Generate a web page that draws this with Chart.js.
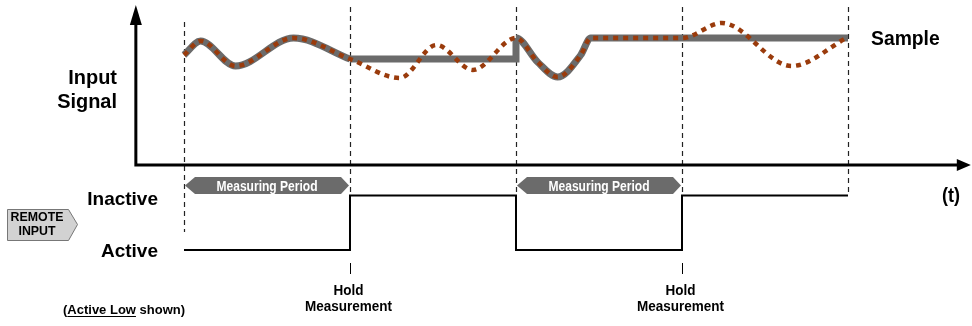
<!DOCTYPE html>
<html lang="en">
<head>
  <meta charset="UTF-8">
  <title>Remote Input Hold</title>
  <script src="https://cdn.jsdelivr.net/npm/chart.js"></script>
  <style>
    body { margin: 0; background: #fff; }
    #wrap { width: 972px; height: 326px; }
  </style>
</head>
<body>
  <div id="wrap"><canvas id="holdChart" width="972" height="326"></canvas></div>

 <script>
    // time in measuring periods, signal in arbitrary units
    const sigT = [0, 0.10, 0.31, 0.66, 1.0, 1.30, 1.52, 1.74, 2.0, 2.13, 2.25, 2.39, 2.45, 3.0, 3.24, 3.66, 4.0];
    const sigV = [11.0, 12.4, 9.9, 12.7, 10.6, 8.7, 12.0, 9.5, 12.7, 10.3, 8.8, 11.0, 12.7, 12.7, 14.2, 9.9, 12.8];

    // held value while the remote input is inactive
    const hold1T = [1, 2, 2];
    const hold1V = [10.6, 10.6, 12.7];
    const hold2T = [3, 4];
    const hold2V = [12.7, 12.7];

    // remote input level: 0 = Active, 1 = Inactive
    const remoteT = [0, 1, 1, 2, 2, 3, 3, 4];
    const remoteLvl = [0, 0, 1, 1, 0, 0, 1, 1];

    const markerT = [0, 1, 2, 3, 4];
    const holdAt = [1, 3];
    const periods = [[0, 1], [2, 3]];
    const holdRanges = [[1, 2], [3, 4]];

    const GRAY = '#6b6b6b';
    const BROWN = '#9a3b0c';
    const FONT = '"Liberation Sans", Arial, sans-serif';

    const pts = (xs, ys) => xs.map((x, i) => ({ x: x, y: ys[i] }));

    function inHold(a, b) {
      return holdRanges.some(r => a >= r[0] && b <= r[1]);
    }

    function txt(ctx, s, x, y, size, align, sx, color) {
      ctx.save();
      ctx.font = 'bold ' + size + 'px ' + FONT;
      ctx.fillStyle = color || '#000';
      ctx.textAlign = align;
      ctx.textBaseline = 'alphabetic';
      ctx.translate(x, y);
      ctx.scale(sx, 1);
      ctx.fillText(s, 0, 0);
      ctx.restore();
    }

    const drawParts = {
      id: 'drawParts',
      beforeDraw(chart) {
        const ctx = chart.ctx;
        ctx.save();
        ctx.fillStyle = '#fff';
        ctx.fillRect(0, 0, chart.width, chart.height);
        ctx.restore();
      },
      beforeDatasetsDraw(chart) {
        const ctx = chart.ctx;
        const xs = chart.scales.x, ys = chart.scales.y, y2 = chart.scales.y2;
        const hi = y2.getPixelForValue(1);

        // dashed period markers
        ctx.save();
        ctx.strokeStyle = '#222';
        ctx.lineWidth = 1.2;
        ctx.setLineDash([5, 4]);
        markerT.forEach((t, i) => {
          const px = Math.round(xs.getPixelForValue(t)) + 0.5;
          ctx.beginPath();
          ctx.moveTo(px, i === 0 ? 22 : 7);
          ctx.lineTo(px, i === 0 ? 232 : hi);
          ctx.stroke();
        });
        ctx.restore();

        // axes with arrows
        const ax = xs.getPixelForValue(-0.29);
        const ay = ys.getPixelForValue(0);
        const tipX = xs.getPixelForValue(4.74);
        const tipY = ys.getPixelForValue(16);
        ctx.save();
        ctx.strokeStyle = '#000';
        ctx.fillStyle = '#000';
        ctx.lineWidth = 3;
        ctx.beginPath();
        ctx.moveTo(ax, ay);
        ctx.lineTo(ax, tipY + 16);
        ctx.moveTo(ax - 1.5, ay);
        ctx.lineTo(tipX - 12, ay);
        ctx.stroke();
        ctx.beginPath();
        ctx.moveTo(ax, tipY);
        ctx.lineTo(ax - 6, tipY + 20);
        ctx.lineTo(ax + 6, tipY + 20);
        ctx.closePath();
        ctx.fill();
        ctx.beginPath();
        ctx.moveTo(tipX, ay);
        ctx.lineTo(tipX - 14, ay - 6);
        ctx.lineTo(tipX - 14, ay + 6);
        ctx.closePath();
        ctx.fill();
        ctx.restore();
      },
      afterDatasetsDraw(chart) {
        const ctx = chart.ctx;
        const xs = chart.scales.x, y2 = chart.scales.y2;
        const hi = y2.getPixelForValue(1);
        const lo = y2.getPixelForValue(0);

        // measuring period banners
        periods.forEach(p => {
          const a = xs.getPixelForValue(p[0]) + 1;
          const b = xs.getPixelForValue(p[1]) - 1;
          const cy = hi - 10, h = 8.5;
          ctx.save();
          ctx.fillStyle = '#6b6b6b';
          ctx.beginPath();
          ctx.moveTo(a, cy);
          ctx.lineTo(a + 10, cy - h);
          ctx.lineTo(b - 8, cy - h);
          ctx.lineTo(b, cy);
          ctx.lineTo(b - 8, cy + h);
          ctx.lineTo(a + 10, cy + h);
          ctx.closePath();
          ctx.fill();
          ctx.restore();
          txt(ctx, 'Measuring Period', (a + b) / 2, cy + 5, 14, 'center', 0.86, '#fff');
        });

        // hold measurement marks
        holdAt.forEach(t => {
          const px = Math.round(xs.getPixelForValue(t)) + 0.5;
          ctx.save();
          ctx.strokeStyle = '#000';
          ctx.lineWidth = 1;
          ctx.beginPath();
          ctx.moveTo(px, 263);
          ctx.lineTo(px, 274);
          ctx.stroke();
          ctx.restore();
          txt(ctx, 'Hold', px - 2, 295, 15, 'center', 0.9);
          txt(ctx, 'Measurement', px - 2, 311, 15, 'center', 0.9);
        });

        // labels
        txt(ctx, 'Input', 117, 84, 21, 'right', 0.95);
        txt(ctx, 'Signal', 117, 108, 21, 'right', 0.95);
        txt(ctx, 'Sample', 871, 45, 21, 'left', 0.92);
        txt(ctx, '(t)', 951, 202, 20, 'center', 0.9);
        txt(ctx, 'Inactive', 158, hi + 9, 19, 'right', 1);
        txt(ctx, 'Active', 158, lo + 7, 19, 'right', 1);

        // remote input tag
        ctx.save();
        ctx.fillStyle = '#d2d2d2';
        ctx.strokeStyle = '#777';
        ctx.lineWidth = 1;
        ctx.beginPath();
        ctx.moveTo(7.5, 209.5);
        ctx.lineTo(68.5, 209.5);
        ctx.lineTo(77.5, 224.5);
        ctx.lineTo(68.5, 240.5);
        ctx.lineTo(7.5, 240.5);
        ctx.closePath();
        ctx.fill();
        ctx.stroke();
        ctx.restore();
        txt(ctx, 'REMOTE', 37, 221, 13, 'center', 0.95);
        txt(ctx, 'INPUT', 37, 235, 13, 'center', 0.95);

        // footnote with underline
        ctx.save();
        ctx.font = 'bold 13px ' + FONT;
        const w0 = ctx.measureText('(').width;
        const w1 = ctx.measureText('Active Low').width;
        ctx.restore();
        txt(ctx, '(Active Low shown)', 63, 314, 13, 'left', 1);
        ctx.save();
        ctx.strokeStyle = '#000';
        ctx.lineWidth = 1;
        ctx.beginPath();
        ctx.moveTo(63 + w0, 316.5);
        ctx.lineTo(63 + w0 + w1, 316.5);
        ctx.stroke();
        ctx.restore();
      }
    };

    new Chart(document.getElementById('holdChart'), {
      type: 'line',
      data: {
        datasets: [
          {
            label: 'Input Signal',
            data: pts(sigT, sigV),
            borderColor: BROWN,
            borderWidth: 4.5,
            borderDash: [5, 5],
            cubicInterpolationMode: 'monotone',
            pointRadius: 0,
            yAxisID: 'y'
          },
          {
            label: 'Sample',
            data: pts(sigT, sigV),
            borderColor: GRAY,
            borderWidth: 7,
            cubicInterpolationMode: 'monotone',
            pointRadius: 0,
            segment: {
              borderColor: c => inHold(c.p0.parsed.x, c.p1.parsed.x) ? 'transparent' : GRAY
            },
            yAxisID: 'y'
          },
          {
            label: 'Hold 1',
            data: pts(hold1T, hold1V),
            borderColor: GRAY,
            borderWidth: 7,
            tension: 0,
            pointRadius: 0,
            yAxisID: 'y'
          },
          {
            label: 'Hold 2',
            data: pts(hold2T, hold2V),
            borderColor: GRAY,
            borderWidth: 7,
            tension: 0,
            pointRadius: 0,
            yAxisID: 'y'
          },
          {
            label: 'Remote Input',
            data: pts(remoteT, remoteLvl),
            borderColor: '#000',
            borderWidth: 2,
            tension: 0,
            pointRadius: 0,
            yAxisID: 'y2'
          }
        ]
      },
      options: {
        responsive: false,
        animation: false,
        layout: { padding: 0 },
        plugins: { legend: { display: false }, tooltip: { enabled: false } },
        scales: {
          x: { type: 'linear', min: -1.1084, max: 4.747, display: false },
          y: { min: -16.1, max: 16.5, display: false },
          y2: { min: -1.394, max: 4.587, display: false }
        }
      },
      plugins: [drawParts]
    });
  </script>
</body>
</html>
